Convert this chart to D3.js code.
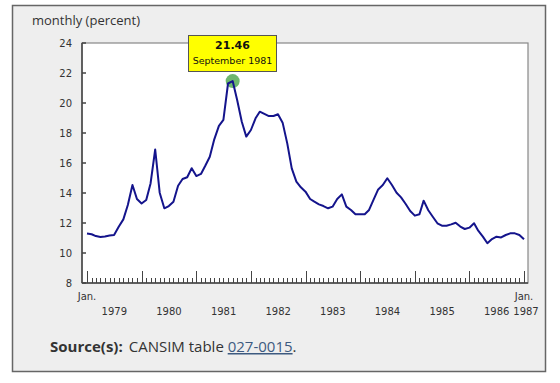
<!DOCTYPE html>
<html>
<head>
<meta charset="utf-8">
<script src="https://cdn.jsdelivr.net/npm/d3@7"></script>
<style>
  body { margin: 0; background: #fff; }
  svg { display: block; }
</style>
</head>
<body>
<svg width="560" height="383"></svg>
<script>

// monthly values, Jan. 1979 to Jan. 1987
var values = [
  11.30, 11.25, 11.13, 11.07, 11.10, 11.17, 11.20, 11.75, 12.24, 13.20, 14.53, 13.60,
  13.30, 13.53, 14.64, 16.90, 14.02, 12.98, 13.13, 13.42, 14.48, 14.93, 15.05, 15.65,
  15.13, 15.27, 15.80, 16.42, 17.58, 18.47, 18.87, 21.30, 21.46, 20.20, 18.75, 17.76,
  18.20, 18.98, 19.42, 19.27, 19.13, 19.13, 19.25, 18.69, 17.31, 15.64, 14.76, 14.38,
  14.09, 13.60, 13.42, 13.24, 13.13, 12.98, 13.09, 13.60, 13.91, 13.09, 12.87, 12.58,
  12.58, 12.58, 12.87, 13.58, 14.24, 14.53, 14.98, 14.53, 14.02, 13.71, 13.27, 12.80,
  12.49, 12.58, 13.49, 12.85, 12.42, 11.98, 11.82, 11.82, 11.91, 12.02, 11.76, 11.60,
  11.69, 11.98, 11.49, 11.09, 10.65, 10.93, 11.09, 11.04, 11.20, 11.31, 11.31, 11.20,
  10.91
];

var years = ["1979", "1980", "1981", "1982", "1983", "1984", "1985", "1986", "1987"];
var yTicks = [8, 10, 12, 14, 16, 18, 20, 22, 24];
var highlight = 32; // September 1981

drawChart();

function drawChart() {

  var months = d3.timeMonth.range(new Date(1979, 0, 1), new Date(1987, 1, 1));
  var data = months.map(function(m, i) {
    return {date: m, value: values[i]};
  });

  var svg = d3.select("svg");

  // outer frame
  svg.append("rect")
    .attr("x", 12.5)
    .attr("y", 5.5)
    .attr("width", 533)
    .attr("height", 366)
    .attr("fill", "#eeeeee")
    .attr("stroke", "#666")
    .attr("stroke-width", 1.5);

  // plot area
  var pLeft = 82, pRight = 528, pTop = 43, pBottom = 283;

  svg.append("rect")
    .attr("x", pLeft)
    .attr("y", pTop)
    .attr("width", pRight - pLeft)
    .attr("height", pBottom - pTop)
    .attr("fill", "#fff")
    .attr("stroke", "#888")
    .attr("stroke-width", 1.2);

  var x = d3.scaleTime()
    .domain([months[0], months[months.length - 1]])
    .range([87, 524]);

  var y = d3.scaleLinear()
    .domain([8, 24])
    .range([pBottom, pTop]);

  // title
  svg.append("text")
    .attr("x", 32)
    .attr("y", 25)
    .attr("font-family", "'Open Sans', sans-serif")
    .attr("font-size", "13px")
    .attr("fill", "#333")
    .text("monthly (percent)");

  // axis lines
  svg.append("line")
    .attr("x1", pLeft).attr("x2", pLeft)
    .attr("y1", pTop).attr("y2", pBottom)
    .attr("stroke", "#444").attr("stroke-width", 1.5);

  svg.append("line")
    .attr("x1", pLeft).attr("x2", pRight)
    .attr("y1", pBottom).attr("y2", pBottom)
    .attr("stroke", "#444").attr("stroke-width", 1.5);

  // y ticks
  svg.selectAll(".ytick")
    .data(yTicks)
    .enter()
    .append("line")
    .attr("class", "ytick")
    .attr("x1", pLeft).attr("x2", pLeft + 4)
    .attr("y1", function(d) { return y(d); })
    .attr("y2", function(d) { return y(d); })
    .attr("stroke", "#444")
    .attr("stroke-width", 1.5);

  svg.selectAll(".ylabel")
    .data(yTicks)
    .enter()
    .append("text")
    .attr("class", "ylabel")
    .attr("x", 72)
    .attr("y", function(d) { return y(d); })
    .attr("dy", "0.35em")
    .attr("text-anchor", "end")
    .attr("font-family", "'DejaVu Sans', sans-serif")
    .attr("font-size", "10px")
    .attr("fill", "#333")
    .text(function(d) { return d; });

  // x ticks, one per month, longer in January
  svg.selectAll(".xtick")
    .data(months)
    .enter()
    .append("line")
    .attr("class", "xtick")
    .attr("x1", function(d) { return Math.round(x(d)) + 0.5; })
    .attr("x2", function(d) { return Math.round(x(d)) + 0.5; })
    .attr("y1", pBottom)
    .attr("y2", function(d) { return d.getMonth() == 0 ? pBottom - 12 : pBottom - 5; })
    .attr("stroke", "#444")
    .attr("stroke-width", 1);

  // x labels
  var labelFont = "'DejaVu Sans', sans-serif";

  svg.append("text")
    .attr("x", x(months[0]))
    .attr("y", 300)
    .attr("text-anchor", "middle")
    .attr("font-family", labelFont)
    .attr("font-size", "10px")
    .attr("fill", "#333")
    .text("Jan.");

  svg.append("text")
    .attr("x", x(months[months.length - 1]))
    .attr("y", 300)
    .attr("text-anchor", "middle")
    .attr("font-family", labelFont)
    .attr("font-size", "10px")
    .attr("fill", "#333")
    .text("Jan.");

  svg.selectAll(".xlabel")
    .data(years)
    .enter()
    .append("text")
    .attr("class", "xlabel")
    .attr("x", function(d) {
      var yr = +d;
      if (yr == 1987) return x(new Date(1987, 0, 1)) + 2;
      return (x(new Date(yr, 0, 1)) + x(new Date(yr + 1, 0, 1))) / 2;
    })
    .attr("y", 315)
    .attr("text-anchor", "middle")
    .attr("font-family", labelFont)
    .attr("font-size", "10px")
    .attr("fill", "#333")
    .text(function(d) { return d; });

  // highlight point
  var hp = data[highlight];

  svg.append("circle")
    .attr("cx", x(hp.date))
    .attr("cy", y(hp.value))
    .attr("r", 7)
    .attr("fill", "#3e9e3e")
    .attr("opacity", 0.75);

  // the line
  var line = d3.line()
    .x(function(d) { return x(d.date); })
    .y(function(d) { return y(d.value); });

  svg.append("path")
    .datum(data)
    .attr("d", line)
    .attr("fill", "none")
    .attr("stroke", "#14148c")
    .attr("stroke-width", 2)
    .attr("stroke-linejoin", "round");

  // tooltip
  svg.append("rect")
    .attr("x", 188.5)
    .attr("y", 35.5)
    .attr("width", 88)
    .attr("height", 36)
    .attr("fill", "#ffff00")
    .attr("stroke", "#555")
    .attr("stroke-width", 1);

  svg.append("text")
    .attr("x", 232.5)
    .attr("y", 49)
    .attr("text-anchor", "middle")
    .attr("font-family", labelFont)
    .attr("font-size", "11px")
    .attr("font-weight", "bold")
    .attr("fill", "#111")
    .text(d3.format(".2f")(hp.value));

  svg.append("text")
    .attr("x", 232.5)
    .attr("y", 64)
    .attr("text-anchor", "middle")
    .attr("font-family", labelFont)
    .attr("font-size", "9.5px")
    .attr("fill", "#111")
    .text(d3.timeFormat("%B %Y")(hp.date));

  // source line
  var src = svg.append("text")
    .attr("x", 50)
    .attr("y", 352)
    .attr("font-family", "'Open Sans', sans-serif")
    .attr("font-size", "15px")
    .attr("fill", "#333");

  src.append("tspan")
    .attr("font-weight", "bold")
    .text("Source(s):");

  src.append("tspan")
    .attr("dx", 6)
    .text("CANSIM table ");

  src.append("tspan")
    .attr("fill", "#3d5a80")
    .attr("text-decoration", "underline")
    .text("027-0015");

  src.append("tspan")
    .text(".");
}

</script>
</body>
</html>
